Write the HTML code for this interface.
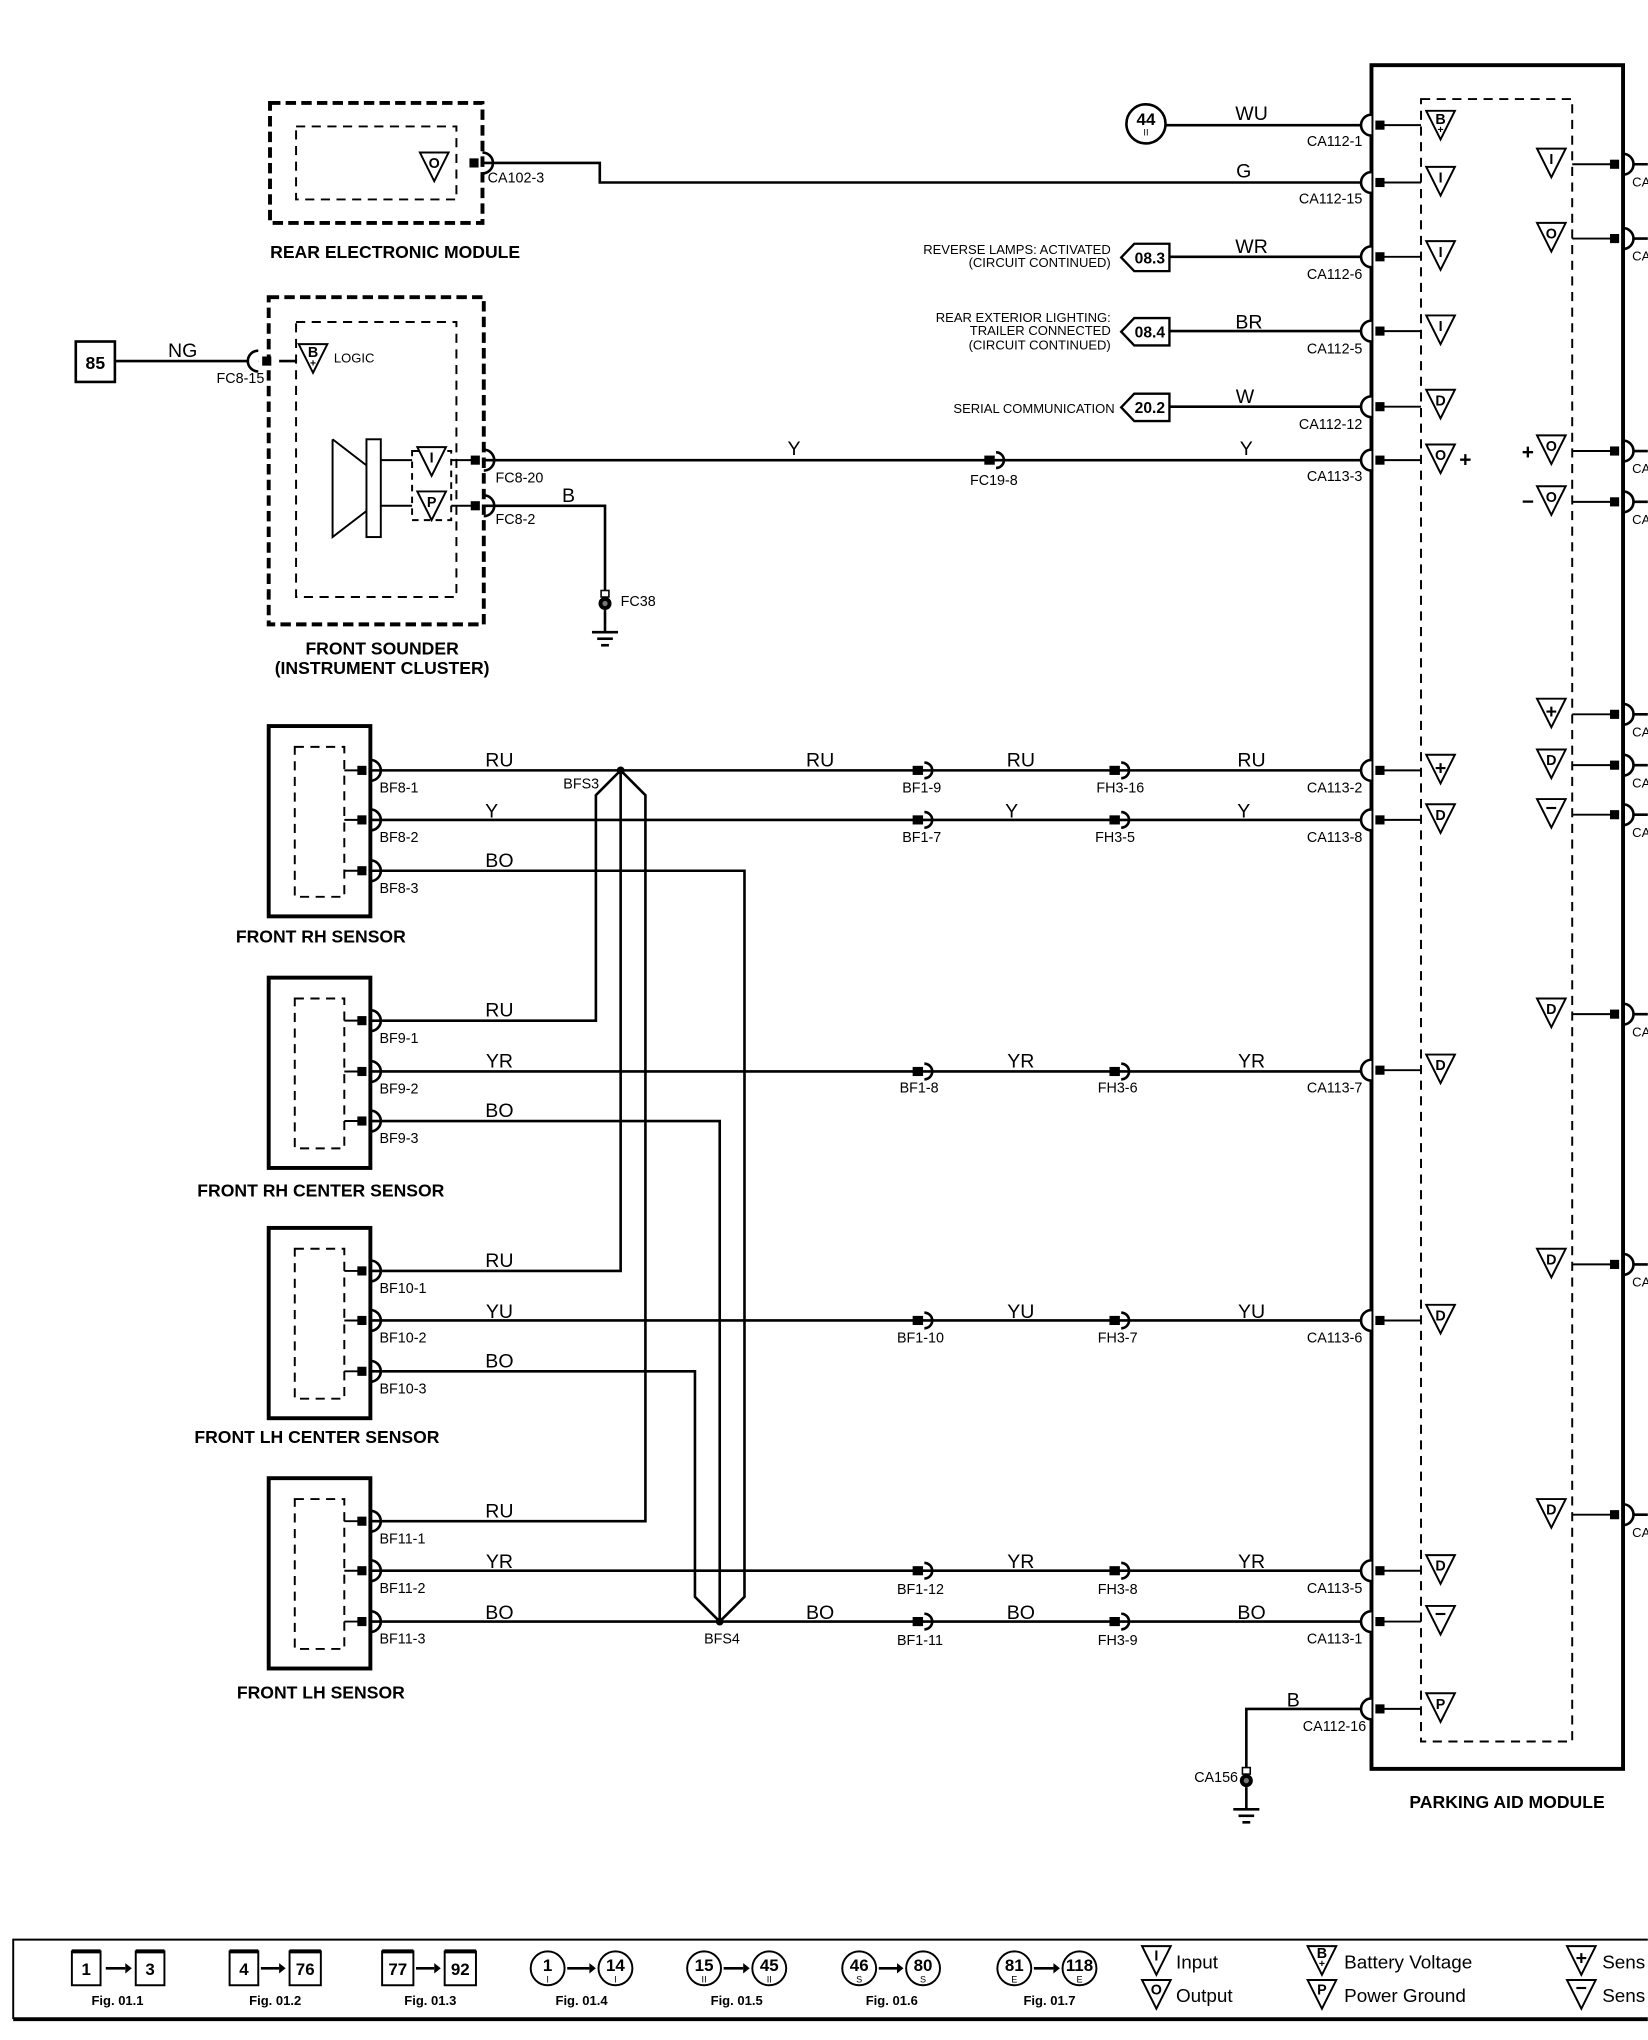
<!DOCTYPE html>
<html><head><meta charset="utf-8"><style>
html,body{margin:0;padding:0;background:#fff;}
svg{display:block;}
text{font-family:"Liberation Sans",Arial,sans-serif;fill:#000;}
.l{font-size:11px;}
.w{font-size:15px;}
.t{font-size:13.5px;font-weight:bold;}
.tg text{transform:translateY(-3px);}
</style></head><body>
<svg width="1648" height="2040" viewBox="0 0 1264 1565" xmlns="http://www.w3.org/2000/svg">
<defs>
<g id="pr"><rect x="-10" y="-3.5" width="7" height="7" fill="#000"/><path d="M0 -8 a8 8 0 0 1 0 16" fill="none" stroke="#000" stroke-width="2"/></g>
<g id="pl"><rect x="3" y="-3.5" width="7" height="7" fill="#000"/><path d="M0 -8 a8 8 0 0 0 0 16" fill="#fff" stroke="#000" stroke-width="2"/></g>
<g id="pi"><rect x="-9" y="-3.5" width="8" height="7" fill="#000"/><path d="M0 -6 a6 6 0 0 1 0 12" fill="none" stroke="#000" stroke-width="2"/></g>
<path id="tri" d="M-11 -9 H11 L0 13 Z" fill="#fff" stroke="#000" stroke-width="1.5"/>
<g id="gnd"><line x1="0" y1="0" x2="0" y2="17" stroke="#000" stroke-width="2"/><line x1="-10" y1="17" x2="10" y2="17" stroke="#000" stroke-width="2"/><line x1="-6" y1="22" x2="6" y2="22" stroke="#000" stroke-width="2"/><line x1="-3" y1="27" x2="3" y2="27" stroke="#000" stroke-width="2"/></g>
<g id="spl"><rect x="-3" y="-10" width="6" height="5" fill="#fff" stroke="#000" stroke-width="1.2"/><circle cx="0" cy="0" r="4.5" fill="#000" stroke="#000"/><circle cx="0" cy="0" r="2" fill="#777"/></g>
</defs>

<g fill="none" stroke="#000" stroke-width="2">
<rect x="1052" y="50" width="193" height="1307" stroke-width="3"/>
<rect x="1090" y="76" width="116" height="1260" stroke-width="1.5" stroke-dasharray="7,5"/>
<rect x="207" y="79" width="163" height="92" stroke-width="3" stroke-dasharray="8,4"/>
<rect x="227" y="97" width="123" height="56" stroke-width="1.5" stroke-dasharray="7,5"/>
<rect x="206" y="228" width="165" height="251" stroke-width="3" stroke-dasharray="8,4"/>
<rect x="227" y="247" width="123" height="211" stroke-width="1.5" stroke-dasharray="7,5"/>
<rect x="316" y="346" width="30" height="53" stroke-width="1.5" stroke-dasharray="5,4"/>
<rect x="281" y="337" width="11" height="75" stroke-width="1.5"/>
<path d="M255 337 L281 357 M255 337 V412 L281 392" stroke-width="1.5"/>
<path d="M292 353 H316 M292 388 H316 M346 353 H363 M346 388 H363" stroke-width="1.5"/>
<rect x="58" y="262" width="30" height="31" stroke-width="2"/>
<rect x="206" y="557" width="78" height="146" stroke-width="3"/>
<rect x="226" y="573" width="38" height="115" stroke-width="1.5" stroke-dasharray="7,5"/>
<rect x="206" y="750" width="78" height="146" stroke-width="3"/>
<rect x="226" y="766" width="38" height="115" stroke-width="1.5" stroke-dasharray="7,5"/>
<rect x="206" y="942" width="78" height="146" stroke-width="3"/>
<rect x="226" y="958" width="38" height="115" stroke-width="1.5" stroke-dasharray="7,5"/>
<rect x="206" y="1134" width="78" height="146" stroke-width="3"/>
<rect x="226" y="1150" width="38" height="115" stroke-width="1.5" stroke-dasharray="7,5"/>
<path d="M264 591 H276 M264 629 H276 M264 668 H276 M264 783 H276 M264 822 H276 M264 860 H276 M264 975 H276 M264 1013 H276 M264 1052 H276 M264 1167 H276 M264 1205 H276 M264 1244 H276" stroke-width="1.5"/>

<path d="M370 125 H460 V140 H1052"/>
<path d="M894 96 H1052"/>
<path d="M897 197 H1052 M897 254 H1052 M897 312 H1052"/>
<path d="M371 353 H1052"/>
<path d="M371 388 H464 V455"/>
<path d="M88 277 H198 M214 277 H227" />
<path d="M284 591 H1052 M284 629 H1052"/>
<path d="M284 668 H571 V1225 L552 1244"/>
<path d="M284 860 H552 V1244"/>
<path d="M284 1052 H533 V1225 L552 1244"/>
<path d="M284 783 H457 V610 L476 591 L495 610 V1167 H284"/>
<path d="M476 591 V975 H284"/>
<path d="M284 822 H1052 M284 1013 H1052 M284 1205 H1052 M284 1244 H1052"/>
<path d="M1052 1311 H956 V1358"/>
<path d="M1062 96 H1090 M1062 140 H1090 M1062 197 H1090 M1062 254 H1090 M1062 312 H1090 M1062 353 H1090 M1062 591 H1090 M1062 629 H1090 M1062 821 H1090 M1062 1013 H1090 M1062 1205 H1090 M1062 1244 H1090 M1062 1311 H1090" stroke-width="1.5"/>
<path d="M1206 126 H1237 M1206 183 H1237 M1206 346 H1237 M1206 385 H1237 M1206 548 H1237 M1206 587 H1237 M1206 625 H1237 M1206 778 H1237 M1206 970 H1237 M1206 1162 H1237" stroke-width="1.5"/>
<path d="M1253 126 H1264 M1253 183 H1264 M1253 346 H1264 M1253 385 H1264 M1253 548 H1264 M1253 587 H1264 M1253 625 H1264 M1253 778 H1264 M1253 970 H1264 M1253 1162 H1264"/>
<circle cx="879" cy="95" r="15"/>
<path d="M897 187 H870 L860 197.5 L870 208 H897 Z M897 244 H870 L860 254.5 L870 265 H897 Z M897 302 H870 L860 312.5 L870 323 H897 Z" stroke-width="1.8"/>
</g>
<circle cx="476" cy="591" r="3" fill="#000"/>
<circle cx="552" cy="1244" r="3" fill="#000"/>

<use href="#pr" x="370" y="125"/>
<use href="#pl" x="198" y="277"/>
<use href="#pr" x="371" y="353"/><use href="#pr" x="371" y="388"/>
<use href="#pr" x="284" y="591"/><use href="#pr" x="284" y="629"/><use href="#pr" x="284" y="668"/>
<use href="#pr" x="284" y="783"/><use href="#pr" x="284" y="822"/><use href="#pr" x="284" y="860"/>
<use href="#pr" x="284" y="975"/><use href="#pr" x="284" y="1013"/><use href="#pr" x="284" y="1052"/>
<use href="#pr" x="284" y="1167"/><use href="#pr" x="284" y="1205"/><use href="#pr" x="284" y="1244"/>
<use href="#pl" x="1052" y="96"/><use href="#pl" x="1052" y="140"/><use href="#pl" x="1052" y="197"/><use href="#pl" x="1052" y="254"/><use href="#pl" x="1052" y="312"/><use href="#pl" x="1052" y="353"/>
<use href="#pl" x="1052" y="591"/><use href="#pl" x="1052" y="629"/><use href="#pl" x="1052" y="821"/><use href="#pl" x="1052" y="1013"/><use href="#pl" x="1052" y="1205"/><use href="#pl" x="1052" y="1244"/><use href="#pl" x="1052" y="1311"/>
<use href="#pr" x="1245" y="126"/><use href="#pr" x="1245" y="183"/><use href="#pr" x="1245" y="346"/><use href="#pr" x="1245" y="385"/><use href="#pr" x="1245" y="548"/><use href="#pr" x="1245" y="587"/><use href="#pr" x="1245" y="625"/><use href="#pr" x="1245" y="778"/><use href="#pr" x="1245" y="970"/><use href="#pr" x="1245" y="1162"/>
<use href="#pi" x="764" y="353"/>
<use href="#pi" x="709" y="591"/><use href="#pi" x="860" y="591"/>
<use href="#pi" x="709" y="629"/><use href="#pi" x="860" y="629"/>
<use href="#pi" x="709" y="822"/><use href="#pi" x="860" y="822"/>
<use href="#pi" x="709" y="1013"/><use href="#pi" x="860" y="1013"/>
<use href="#pi" x="709" y="1205"/><use href="#pi" x="860" y="1205"/>
<use href="#pi" x="709" y="1244"/><use href="#pi" x="860" y="1244"/>
<use href="#spl" x="464" y="463"/><use href="#gnd" x="464" y="468"/>
<use href="#spl" x="956" y="1366"/><use href="#gnd" x="956" y="1371"/>

<g class="tg" font-size="11" font-weight="bold" text-anchor="middle">
<use href="#tri" x="333" y="126"/><text x="333" y="132">O</text>
<use href="#tri" x="240" y="273"/><text x="240" y="277">B</text><text x="240" y="284" font-size="8">+</text>
<use href="#tri" x="331" y="352"/><text x="331" y="358">I</text>
<use href="#tri" x="331" y="386"/><text x="331" y="392">P</text>
<use href="#tri" x="1105" y="94"/><text x="1105" y="98">B</text><text x="1105" y="105" font-size="8">+</text>
<use href="#tri" x="1105" y="137"/><text x="1105" y="143">I</text>
<use href="#tri" x="1105" y="194"/><text x="1105" y="200">I</text>
<use href="#tri" x="1105" y="251"/><text x="1105" y="257">I</text>
<use href="#tri" x="1105" y="308"/><text x="1105" y="314">D</text>
<use href="#tri" x="1105" y="350"/><text x="1105" y="356">O</text><text x="1124" y="361" font-size="16">+</text>
<use href="#tri" x="1105" y="588"/><text x="1105" y="597" font-size="15">+</text>
<use href="#tri" x="1105" y="626"/><text x="1105" y="632">D</text>
<use href="#tri" x="1105" y="818"/><text x="1105" y="824">D</text>
<use href="#tri" x="1105" y="1010"/><text x="1105" y="1016">D</text>
<use href="#tri" x="1105" y="1202"/><text x="1105" y="1208">D</text>
<use href="#tri" x="1105" y="1241"/><text x="1105" y="1246" font-size="15">−</text>
<use href="#tri" x="1105" y="1308"/><text x="1105" y="1314">P</text>
<use href="#tri" x="1190" y="123"/><text x="1190" y="129">I</text>
<use href="#tri" x="1190" y="180"/><text x="1190" y="186">O</text>
<use href="#tri" x="1190" y="343"/><text x="1190" y="349">O</text><text x="1172" y="355" font-size="16">+</text>
<use href="#tri" x="1190" y="382"/><text x="1190" y="388">O</text><text x="1172" y="393" font-size="16">−</text>
<use href="#tri" x="1190" y="545"/><text x="1190" y="554" font-size="15">+</text>
<use href="#tri" x="1190" y="584"/><text x="1190" y="590">D</text>
<use href="#tri" x="1190" y="622"/><text x="1190" y="628" font-size="15">−</text>
<use href="#tri" x="1190" y="775"/><text x="1190" y="781">D</text>
<use href="#tri" x="1190" y="967"/><text x="1190" y="973">D</text>
<use href="#tri" x="1190" y="1159"/><text x="1190" y="1165">D</text>
</g>

<g class="l">
<text x="374" y="140">CA102-3</text>
<text x="166" y="294">FC8-15</text>
<text x="256" y="278" font-size="10">LOGIC</text>
<text x="380" y="370">FC8-20</text>
<text x="380" y="402">FC8-2</text>
<text x="476" y="465">FC38</text>
<text x="744" y="372">FC19-8</text>
<text x="916" y="1367">CA156</text>
<g text-anchor="end">
<text x="1045" y="112">CA112-1</text>
<text x="1045" y="156">CA112-15</text>
<text x="1045" y="214">CA112-6</text>
<text x="1045" y="271">CA112-5</text>
<text x="1045" y="329">CA112-12</text>
<text x="1045" y="369">CA113-3</text>
<text x="1045" y="608">CA113-2</text>
<text x="1045" y="646">CA113-8</text>
<text x="1045" y="838">CA113-7</text>
<text x="1045" y="1030">CA113-6</text>
<text x="1045" y="1222">CA113-5</text>
<text x="1045" y="1261">CA113-1</text>
<text x="1048" y="1328">CA112-16</text>
<text x="852" y="195" font-size="10">REVERSE LAMPS: ACTIVATED</text>
<text x="852" y="205" font-size="10">(CIRCUIT CONTINUED)</text>
<text x="852" y="247" font-size="10">REAR EXTERIOR LIGHTING:</text>
<text x="852" y="257" font-size="10">TRAILER CONNECTED</text>
<text x="852" y="268" font-size="10">(CIRCUIT CONTINUED)</text>
<text x="855" y="317" font-size="10">SERIAL COMMUNICATION</text>
</g>
<text x="291" y="608">BF8-1</text><text x="291" y="646">BF8-2</text><text x="291" y="685">BF8-3</text>
<text x="291" y="800">BF9-1</text><text x="291" y="839">BF9-2</text><text x="291" y="877">BF9-3</text>
<text x="291" y="992">BF10-1</text><text x="291" y="1030">BF10-2</text><text x="291" y="1069">BF10-3</text>
<text x="291" y="1184">BF11-1</text><text x="291" y="1222">BF11-2</text><text x="291" y="1261">BF11-3</text>
<text x="432" y="605">BFS3</text><text x="540" y="1261">BFS4</text>
<text x="692" y="608">BF1-9</text><text x="841" y="608">FH3-16</text>
<text x="692" y="646">BF1-7</text><text x="840" y="646">FH3-5</text>
<text x="690" y="838">BF1-8</text><text x="842" y="838">FH3-6</text>
<text x="688" y="1030">BF1-10</text><text x="842" y="1030">FH3-7</text>
<text x="688" y="1223">BF1-12</text><text x="842" y="1223">FH3-8</text>
<text x="688" y="1262">BF1-11</text><text x="842" y="1262">FH3-9</text>
<text x="1252" y="143" font-size="10">CA</text><text x="1252" y="200" font-size="10">CA</text><text x="1252" y="363" font-size="10">CA</text><text x="1252" y="402" font-size="10">CA</text><text x="1252" y="565" font-size="10">CA</text><text x="1252" y="604" font-size="10">CA</text><text x="1252" y="642" font-size="10">CA</text><text x="1252" y="795" font-size="10">CA</text><text x="1252" y="987" font-size="10">CA</text><text x="1252" y="1179" font-size="10">CA</text>
</g>
<g class="w" text-anchor="middle">
<text x="960" y="92">WU</text><text x="954" y="136">G</text><text x="960" y="194">WR</text><text x="958" y="252">BR</text><text x="955" y="309">W</text>
<text x="609" y="349">Y</text><text x="956" y="349">Y</text><text x="436" y="385">B</text><text x="140" y="274">NG</text>
<text x="383" y="588">RU</text><text x="629" y="588">RU</text><text x="783" y="588">RU</text><text x="960" y="588">RU</text>
<text x="377" y="627">Y</text><text x="776" y="627">Y</text><text x="954" y="627">Y</text>
<text x="383" y="665">BO</text>
<text x="383" y="780">RU</text>
<text x="383" y="819">YR</text><text x="783" y="819">YR</text><text x="960" y="819">YR</text>
<text x="383" y="857">BO</text>
<text x="383" y="972">RU</text>
<text x="383" y="1011">YU</text><text x="783" y="1011">YU</text><text x="960" y="1011">YU</text>
<text x="383" y="1049">BO</text>
<text x="383" y="1164">RU</text>
<text x="383" y="1203">YR</text><text x="783" y="1203">YR</text><text x="960" y="1203">YR</text>
<text x="383" y="1242">BO</text><text x="629" y="1242">BO</text><text x="783" y="1242">BO</text><text x="960" y="1242">BO</text>
<text x="992" y="1309">B</text>
</g>
<g class="t" text-anchor="middle">
<text x="879" y="96" font-size="13">44</text><text x="879" y="104" font-size="7" font-weight="normal">II</text>
<text x="882" y="202" font-size="12">08.3</text><text x="882" y="259" font-size="12">08.4</text><text x="882" y="317" font-size="12">20.2</text>
<text x="73" y="283">85</text>
<text x="303" y="198">REAR ELECTRONIC MODULE</text>
<text x="293" y="502">FRONT SOUNDER</text>
<text x="293" y="517">(INSTRUMENT CLUSTER)</text>
<text x="246" y="723">FRONT RH SENSOR</text>
<text x="246" y="918">FRONT RH CENTER SENSOR</text>
<text x="243" y="1107">FRONT LH CENTER SENSOR</text>
<text x="246" y="1303">FRONT LH  SENSOR</text>
<text x="1156" y="1387">PARKING AID MODULE</text>
</g>

<g fill="none" stroke="#000" stroke-width="1.5">
<path d="M10 1549 V1488 H1264"/>
<path d="M10 1549 H1264" stroke-width="3"/>
<rect x="55" y="1497" width="22" height="26"/><rect x="104" y="1497" width="22" height="26"/>
<rect x="176" y="1497" width="22" height="26"/><rect x="222" y="1497" width="24" height="26"/>
<rect x="293" y="1497" width="24" height="26"/><rect x="341" y="1497" width="24" height="26"/>
<circle cx="420" cy="1510" r="13"/><circle cx="472" cy="1510" r="13"/>
<circle cx="540" cy="1510" r="13"/><circle cx="590" cy="1510" r="13"/>
<circle cx="659" cy="1510" r="13"/><circle cx="708" cy="1510" r="13"/>
<circle cx="778" cy="1510" r="13"/><circle cx="828" cy="1510" r="13"/>
</g>
<g stroke="#000" stroke-width="2">
<path d="M55 1497 H77 M104 1497 H126 M176 1497 H198 M222 1497 H246 M293 1497 H317 M341 1497 H365" stroke-width="3"/>
<path d="M81 1510 H96 M200 1510 H214 M319 1510 H333 M435 1510 H452 M555 1510 H570 M674 1510 H688 M793 1510 H808"/>
</g>
<g fill="#000"><path d="M96 1506 L101 1510 L96 1514Z M214 1506 L219 1510 L214 1514Z M333 1506 L338 1510 L333 1514Z M452 1506 L457 1510 L452 1514Z M570 1506 L575 1510 L570 1514Z M688 1506 L693 1510 L688 1514Z M808 1506 L813 1510 L808 1514Z"/></g>
<g font-size="13" font-weight="bold" text-anchor="middle">
<text x="66" y="1515">1</text><text x="115" y="1515">3</text><text x="187" y="1515">4</text><text x="234" y="1515">76</text>
<text x="305" y="1515">77</text><text x="353" y="1515">92</text>
<text x="420" y="1512">1</text><text x="472" y="1512">14</text><text x="540" y="1512">15</text><text x="590" y="1512">45</text>
<text x="659" y="1512">46</text><text x="708" y="1512">80</text><text x="778" y="1512">81</text><text x="828" y="1512">118</text>
</g>
<g font-size="7" text-anchor="middle">
<text x="420" y="1521">I</text><text x="472" y="1521">I</text><text x="540" y="1521">II</text><text x="590" y="1521">II</text>
<text x="659" y="1521">S</text><text x="708" y="1521">S</text><text x="778" y="1521">E</text><text x="828" y="1521">E</text>
</g>
<g font-size="10" font-weight="bold" text-anchor="middle">
<text x="90" y="1538">Fig. 01.1</text><text x="211" y="1538">Fig. 01.2</text><text x="330" y="1538">Fig. 01.3</text>
<text x="446" y="1538">Fig. 01.4</text><text x="565" y="1538">Fig. 01.5</text><text x="684" y="1538">Fig. 01.6</text><text x="805" y="1538">Fig. 01.7</text>
</g>
<g class="tg" font-size="11" font-weight="bold" text-anchor="middle">
<use href="#tri" x="887" y="1502"/><text x="887" y="1507">I</text>
<use href="#tri" x="887" y="1528"/><text x="887" y="1533">O</text>
<use href="#tri" x="1014" y="1502"/><text x="1014" y="1505">B</text><text x="1014" y="1512" font-size="8">+</text>
<use href="#tri" x="1014" y="1528"/><text x="1014" y="1533">P</text>
<use href="#tri" x="1213" y="1502"/><text x="1213" y="1510" font-size="15">+</text>
<use href="#tri" x="1213" y="1528"/><text x="1213" y="1533" font-size="15">−</text>
</g>
<g font-size="14.5">
<text x="902" y="1510">Input</text><text x="902" y="1536">Output</text>
<text x="1031" y="1510">Battery Voltage</text><text x="1031" y="1536">Power Ground</text>
<text x="1229" y="1510">Sens</text><text x="1229" y="1536">Sens</text>
</g>
</svg>
</body></html>
